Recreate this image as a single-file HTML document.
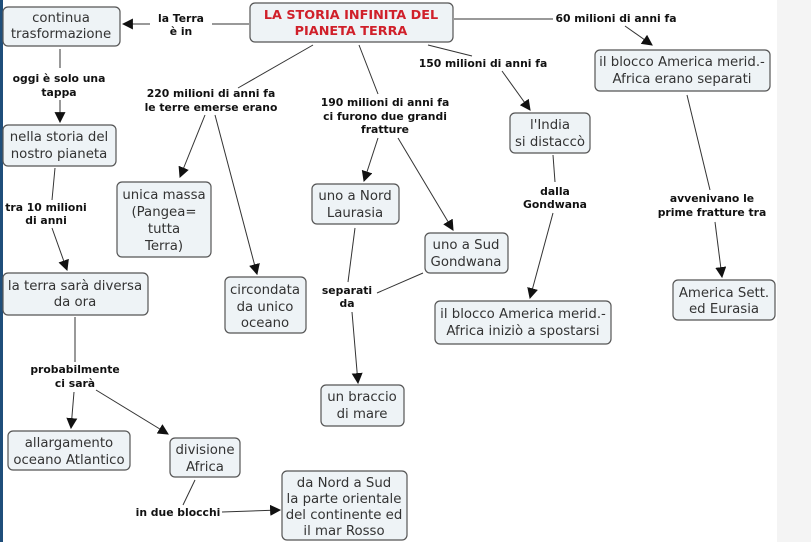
<!DOCTYPE html>
<html><head><meta charset="utf-8"><style>
body{margin:0;width:811px;height:542px;overflow:hidden;background:#fff}
svg{display:block}
.n{fill:#eef3f6;stroke:#555;stroke-width:1.2}
.t{font-family:"DejaVu Sans","Liberation Sans",sans-serif;font-size:13.3px;fill:#333;text-anchor:middle}
.l{font-family:"DejaVu Sans","Liberation Sans",sans-serif;font-size:10.8px;font-weight:bold;fill:#111;text-anchor:middle}
.c{stroke:#333;stroke-width:1;fill:none}
</style></head><body>
<svg width="811" height="542" viewBox="0 0 811 542">
<defs><marker id="a" viewBox="0 0 10 10" refX="9" refY="5" markerWidth="11" markerHeight="11" orient="auto"><path d="M0,0L10,5L0,10z" fill="#111"/></marker></defs>
<rect x="777" y="0" width="34" height="542" fill="#f4f4f4"/>
<rect x="0" y="0" width="3" height="542" fill="#1f4e7a"/>
<g class="c">
<line x1="249" y1="24" x2="212" y2="24"/><line x1="150" y1="24" x2="123" y2="24" marker-end="url(#a)"/>
<line x1="60" y1="49" x2="60" y2="68"/><line x1="60" y1="100" x2="60" y2="122" marker-end="url(#a)"/>
<line x1="55" y1="168" x2="52" y2="200"/><line x1="52" y1="228" x2="67" y2="270" marker-end="url(#a)"/>
<line x1="75" y1="317" x2="75" y2="362"/><line x1="74" y1="392" x2="71" y2="428" marker-end="url(#a)"/>
<line x1="96" y1="390" x2="168" y2="434" marker-end="url(#a)"/>
<line x1="195" y1="480" x2="183" y2="505"/><line x1="222" y1="512" x2="280" y2="510" marker-end="url(#a)"/>
<line x1="313" y1="45" x2="238" y2="88"/>
<line x1="205" y1="115" x2="180" y2="177" marker-end="url(#a)"/>
<line x1="215" y1="115" x2="257" y2="274" marker-end="url(#a)"/>
<line x1="359" y1="45" x2="378" y2="94"/>
<line x1="378" y1="138" x2="364" y2="181" marker-end="url(#a)"/>
<line x1="398" y1="138" x2="453" y2="230" marker-end="url(#a)"/>
<line x1="355" y1="228" x2="348" y2="282"/><line x1="352" y1="312" x2="358" y2="383" marker-end="url(#a)"/>
<line x1="423" y1="273" x2="377" y2="293"/>
<line x1="428" y1="45" x2="472" y2="56"/>
<line x1="502" y1="71" x2="530" y2="110" marker-end="url(#a)"/>
<line x1="454" y1="19" x2="553" y2="19"/>
<line x1="625" y1="26" x2="652" y2="45" marker-end="url(#a)"/>
<line x1="553" y1="155" x2="555" y2="182"/><line x1="553" y1="213" x2="530" y2="298" marker-end="url(#a)"/>
<line x1="687" y1="95" x2="710" y2="190"/><line x1="715" y1="222" x2="722" y2="277" marker-end="url(#a)"/>
</g>
<rect class="n" x="3" y="7" width="117" height="39" rx="5"/>
<text class="t" x="61" y="22">continua</text><text class="t" x="61" y="38">trasformazione</text>
<rect class="n" x="250" y="3" width="203" height="39" rx="5"/>
<text class="t" x="351" y="19" style="fill:#d0202a;font-weight:bold;font-size:12.8px">LA STORIA INFINITA DEL</text>
<text class="t" x="351" y="35" style="fill:#d0202a;font-weight:bold;font-size:12.8px">PIANETA TERRA</text>
<rect class="n" x="3" y="125" width="113" height="41" rx="5"/>
<text class="t" x="59" y="141">nella storia del</text><text class="t" x="59" y="158">nostro pianeta</text>
<rect class="n" x="117" y="182" width="94" height="75" rx="5"/>
<text class="t" x="164" y="199">unica massa</text><text class="t" x="164" y="216">(Pangea=</text><text class="t" x="164" y="233">tutta</text><text class="t" x="164" y="250">Terra)</text>
<rect class="n" x="225" y="277" width="81" height="56" rx="5"/>
<text class="t" x="265" y="294">circondata</text><text class="t" x="265" y="311">da unico</text><text class="t" x="265" y="327">oceano</text>
<rect class="n" x="3" y="273" width="145" height="42" rx="5"/>
<text class="t" x="75" y="290">la terra sarà diversa</text><text class="t" x="75" y="306">da ora</text>
<rect class="n" x="312" y="184" width="87" height="40" rx="5"/>
<text class="t" x="355" y="200">uno a Nord</text><text class="t" x="355" y="217">Laurasia</text>
<rect class="n" x="425" y="233" width="83" height="40" rx="5"/>
<text class="t" x="466" y="249">uno a Sud</text><text class="t" x="466" y="266">Gondwana</text>
<rect class="n" x="510" y="113" width="80" height="40" rx="5"/>
<text class="t" x="550" y="129">l'India</text><text class="t" x="550" y="146">si distaccò</text>
<rect class="n" x="595" y="50" width="175" height="41" rx="5"/>
<text class="t" x="682" y="66">il blocco America merid.-</text><text class="t" x="682" y="83">Africa erano separati</text>
<rect class="n" x="435" y="301" width="176" height="43" rx="5"/>
<text class="t" x="523" y="318">il blocco America merid.-</text><text class="t" x="523" y="335">Africa iniziò a spostarsi</text>
<rect class="n" x="673" y="280" width="102" height="40" rx="5"/>
<text class="t" x="724" y="297">America Sett.</text><text class="t" x="724" y="313">ed Eurasia</text>
<rect class="n" x="321" y="385" width="83" height="41" rx="5"/>
<text class="t" x="362" y="401">un braccio</text><text class="t" x="362" y="418">di mare</text>
<rect class="n" x="8" y="431" width="122" height="39" rx="5"/>
<text class="t" x="69" y="447">allargamento</text><text class="t" x="69" y="464">oceano Atlantico</text>
<rect class="n" x="170" y="438" width="70" height="39" rx="5"/>
<text class="t" x="205" y="454">divisione</text><text class="t" x="205" y="471">Africa</text>
<rect class="n" x="282" y="471" width="125" height="69" rx="5"/>
<text class="t" x="344" y="487">da Nord a Sud</text><text class="t" x="344" y="503">la parte orientale</text><text class="t" x="344" y="519">del continente ed</text><text class="t" x="344" y="535">il mar Rosso</text>
<text class="l" x="181" y="22">la Terra</text><text class="l" x="181" y="35">è in</text>
<text class="l" x="59" y="82">oggi è solo una</text><text class="l" x="59" y="96">tappa</text>
<text class="l" x="46" y="211">tra 10 milioni</text><text class="l" x="46" y="224">di anni</text>
<text class="l" x="211" y="97">220 milioni di anni fa</text><text class="l" x="211" y="111">le terre emerse erano</text>
<text class="l" x="385" y="106">190 milioni di anni fa</text><text class="l" x="385" y="120">ci furono due grandi</text><text class="l" x="385" y="133">fratture</text>
<text class="l" x="483" y="67">150 milioni di anni fa</text>
<text class="l" x="616" y="22">60 milioni di anni fa</text>
<text class="l" x="555" y="195">dalla</text><text class="l" x="555" y="208">Gondwana</text>
<text class="l" x="712" y="202">avvenivano le</text><text class="l" x="712" y="216">prime fratture tra</text>
<text class="l" x="347" y="294">separati</text><text class="l" x="347" y="307">da</text>
<text class="l" x="75" y="373">probabilmente</text><text class="l" x="75" y="387">ci sarà</text>
<text class="l" x="178" y="516">in due blocchi</text>
</svg>
</body></html>
